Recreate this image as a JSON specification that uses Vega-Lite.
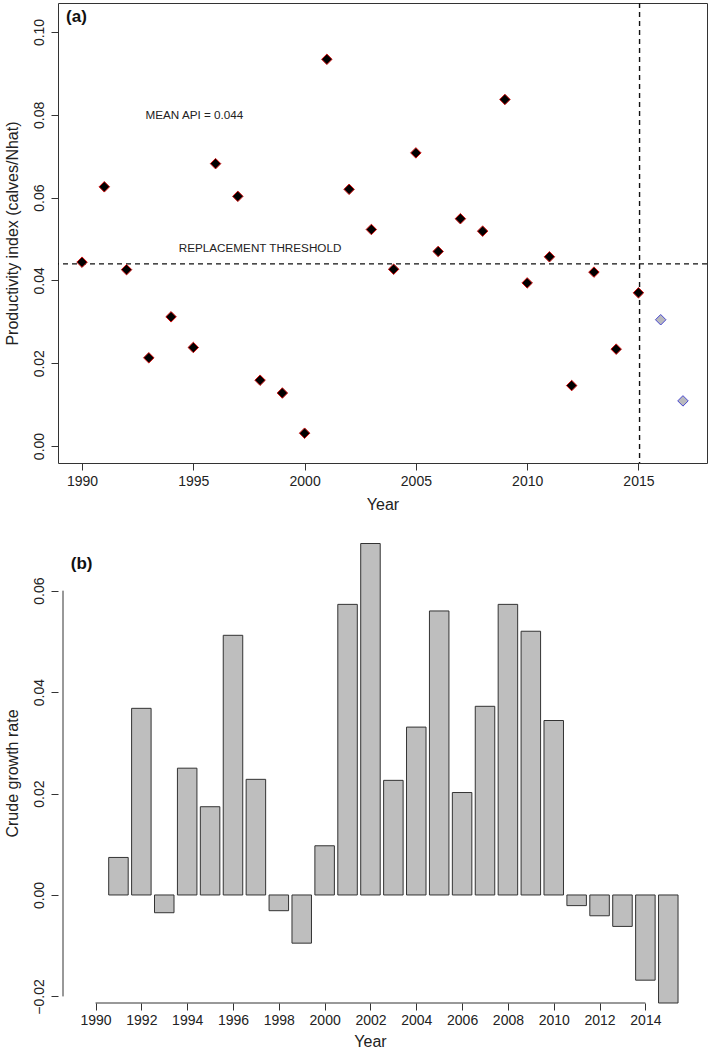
{
  "$schema": "https://vega.github.io/schema/vega-lite/v6.json",
  "padding": {"left": 3, "top": 1, "right": 0, "bottom": 0},
  "background": "white",
  "config": {
    "font": "Liberation Sans",
    "axis": {"grid": false, "tickColor": "#333", "domainColor": "#333", "labelColor": "#222", "titleColor": "#222", "labelFontSize": 14, "titleFontSize": 16, "titleFontWeight": "normal", "tickSize": 7, "labelFont": "Liberation Sans", "titleFont": "Liberation Sans"},
    "concat": {"spacing": 80}
  },
  "datasets": {
    "api": [
      {"year": 1990, "api": 0.0444, "type": "observed"},
      {"year": 1991, "api": 0.0626, "type": "observed"},
      {"year": 1992, "api": 0.0426, "type": "observed"},
      {"year": 1993, "api": 0.0213, "type": "observed"},
      {"year": 1994, "api": 0.0312, "type": "observed"},
      {"year": 1995, "api": 0.0238, "type": "observed"},
      {"year": 1996, "api": 0.0682, "type": "observed"},
      {"year": 1997, "api": 0.0603, "type": "observed"},
      {"year": 1998, "api": 0.0159, "type": "observed"},
      {"year": 1999, "api": 0.0128, "type": "observed"},
      {"year": 2000, "api": 0.0031, "type": "observed"},
      {"year": 2001, "api": 0.0934, "type": "observed"},
      {"year": 2002, "api": 0.0620, "type": "observed"},
      {"year": 2003, "api": 0.0523, "type": "observed"},
      {"year": 2004, "api": 0.0427, "type": "observed"},
      {"year": 2005, "api": 0.0708, "type": "observed"},
      {"year": 2006, "api": 0.0470, "type": "observed"},
      {"year": 2007, "api": 0.0549, "type": "observed"},
      {"year": 2008, "api": 0.0519, "type": "observed"},
      {"year": 2009, "api": 0.0837, "type": "observed"},
      {"year": 2010, "api": 0.0394, "type": "observed"},
      {"year": 2011, "api": 0.0457, "type": "observed"},
      {"year": 2012, "api": 0.0146, "type": "observed"},
      {"year": 2013, "api": 0.0420, "type": "observed"},
      {"year": 2014, "api": 0.0234, "type": "observed"},
      {"year": 2015, "api": 0.0370, "type": "observed"},
      {"year": 2016, "api": 0.0305, "type": "projected"},
      {"year": 2017, "api": 0.0109, "type": "projected"}
    ],
    "growth": [
      {"year": 1991, "rate": 0.0074},
      {"year": 1992, "rate": 0.0368},
      {"year": 1993, "rate": -0.0035},
      {"year": 1994, "rate": 0.0250},
      {"year": 1995, "rate": 0.0174},
      {"year": 1996, "rate": 0.0512},
      {"year": 1997, "rate": 0.0228},
      {"year": 1998, "rate": -0.0031},
      {"year": 1999, "rate": -0.0095},
      {"year": 2000, "rate": 0.0097},
      {"year": 2001, "rate": 0.0573},
      {"year": 2002, "rate": 0.0693},
      {"year": 2003, "rate": 0.0226},
      {"year": 2004, "rate": 0.0331},
      {"year": 2005, "rate": 0.0560},
      {"year": 2006, "rate": 0.0202},
      {"year": 2007, "rate": 0.0372},
      {"year": 2008, "rate": 0.0573},
      {"year": 2009, "rate": 0.0520},
      {"year": 2010, "rate": 0.0344},
      {"year": 2011, "rate": -0.0021},
      {"year": 2012, "rate": -0.0041},
      {"year": 2013, "rate": -0.0062},
      {"year": 2014, "rate": -0.0168},
      {"year": 2015, "rate": -0.0213}
    ],
    "one": [{}]
  },
  "vconcat": [
    {
      "width": 649,
      "height": 460,
      "view": {"stroke": "#333", "strokeWidth": 1},
      "layer": [
        {
          "data": {"name": "one"},
          "mark": {"type": "rule", "strokeDash": [5, 4], "strokeWidth": 1.4, "color": "#111"},
          "encoding": {"y": {"datum": 0.044, "type": "quantitative", "scale": {"domain": [-0.0041, 0.107], "nice": false, "zero": false}}}
        },
        {
          "data": {"name": "one"},
          "mark": {"type": "rule", "strokeDash": [5, 4], "strokeWidth": 1.4, "color": "#111"},
          "encoding": {"x": {"datum": 2015.05, "type": "quantitative", "scale": {"domain": [1988.92, 2018.08], "nice": false, "zero": false}}}
        },
        {
          "data": {"name": "api"},
          "mark": {"type": "point", "shape": "diamond", "filled": true, "size": 110, "strokeWidth": 1, "opacity": 1},
          "encoding": {
            "x": {"field": "year", "type": "quantitative", "scale": {"domain": [1988.92, 2018.08], "nice": false, "zero": false}, "axis": {"values": [1990, 1995, 2000, 2005, 2010, 2015], "format": "d", "domain": false, "labelPadding": 4, "titlePadding": 8, "title": "Year"}},
            "y": {"field": "api", "type": "quantitative", "scale": {"domain": [-0.0041, 0.107], "nice": false, "zero": false}, "axis": {"values": [0, 0.02, 0.04, 0.06, 0.08, 0.1], "format": ".2f", "domain": false, "labelAngle": -90, "labelPadding": 5, "titlePadding": 12, "title": "Productivity index (calves/Nhat)"}},
            "fill": {"field": "type", "type": "nominal", "scale": {"domain": ["observed", "projected"], "range": ["#000000", "#b9b9bd"]}, "legend": null},
            "stroke": {"field": "type", "type": "nominal", "scale": {"domain": ["observed", "projected"], "range": ["#d01010", "#4848d0"]}, "legend": null}
          }
        },
        {
          "data": {"name": "one"},
          "mark": {"type": "text", "fontSize": 11.7, "color": "#222", "align": "center", "baseline": "middle"},
          "encoding": {"x": {"datum": 1995.05, "type": "quantitative"}, "y": {"datum": 0.08, "type": "quantitative"}, "text": {"value": "MEAN API = 0.044"}}
        },
        {
          "data": {"name": "one"},
          "mark": {"type": "text", "fontSize": 11.7, "color": "#222", "align": "center", "baseline": "middle"},
          "encoding": {"x": {"datum": 1998.0, "type": "quantitative"}, "y": {"datum": 0.0479, "type": "quantitative"}, "text": {"value": "REPLACEMENT THRESHOLD"}}
        },
        {
          "data": {"name": "one"},
          "mark": {"type": "text", "fontSize": 17, "fontWeight": "bold", "color": "#111", "align": "left", "baseline": "middle"},
          "encoding": {"x": {"datum": 1989.28, "type": "quantitative"}, "y": {"datum": 0.1036, "type": "quantitative"}, "text": {"value": "(a)"}}
        }
      ]
    },
    {
      "width": 624,
      "height": 460,
      "view": {"stroke": null},
      "layer": [
        {
          "data": {"name": "growth"},
          "mark": {"type": "bar", "orient": "vertical", "width": 19.5, "fill": "#bebebe", "stroke": "#333", "strokeWidth": 1, "clip": false},
          "encoding": {
            "x": {"field": "year", "type": "quantitative", "scale": {"domain": [1988.58, 2015.38], "nice": false, "zero": false}, "axis": {"values": [1990, 1992, 1994, 1996, 1998, 2000, 2002, 2004, 2006, 2008, 2010, 2012, 2014], "format": "d", "domain": false, "labelPadding": 3, "titlePadding": 6, "title": "Year"}},
            "y": {"field": "rate", "type": "quantitative", "stack": null, "scale": {"domain": [-0.0213, 0.0694], "nice": false, "zero": false}, "axis": {"values": [-0.02, 0, 0.02, 0.04, 0.06], "format": ".2f", "domain": false, "labelAngle": -90, "labelPadding": 5, "titlePadding": 12, "title": "Crude growth rate"}}
          }
        },
        {
          "data": {"name": "one"},
          "mark": {"type": "rule", "color": "#333", "strokeWidth": 1},
          "encoding": {"x": {"datum": 1988.58, "type": "quantitative"}, "y": {"datum": -0.02, "type": "quantitative"}, "y2": {"datum": 0.06}}
        },
        {
          "data": {"name": "one"},
          "mark": {"type": "rule", "color": "#333", "strokeWidth": 1},
          "encoding": {"y": {"datum": -0.0213, "type": "quantitative"}, "x": {"datum": 1990, "type": "quantitative"}, "x2": {"datum": 2014}}
        },
        {
          "data": {"name": "one"},
          "mark": {"type": "text", "fontSize": 17, "fontWeight": "bold", "color": "#111", "align": "left", "baseline": "middle"},
          "encoding": {"x": {"datum": 1988.92, "type": "quantitative"}, "y": {"datum": 0.0652, "type": "quantitative"}, "text": {"value": "(b)"}}
        }
      ]
    }
  ],
  "resolve": {"scale": {"x": "independent", "y": "independent"}},
  "bounds": "flush"
}
